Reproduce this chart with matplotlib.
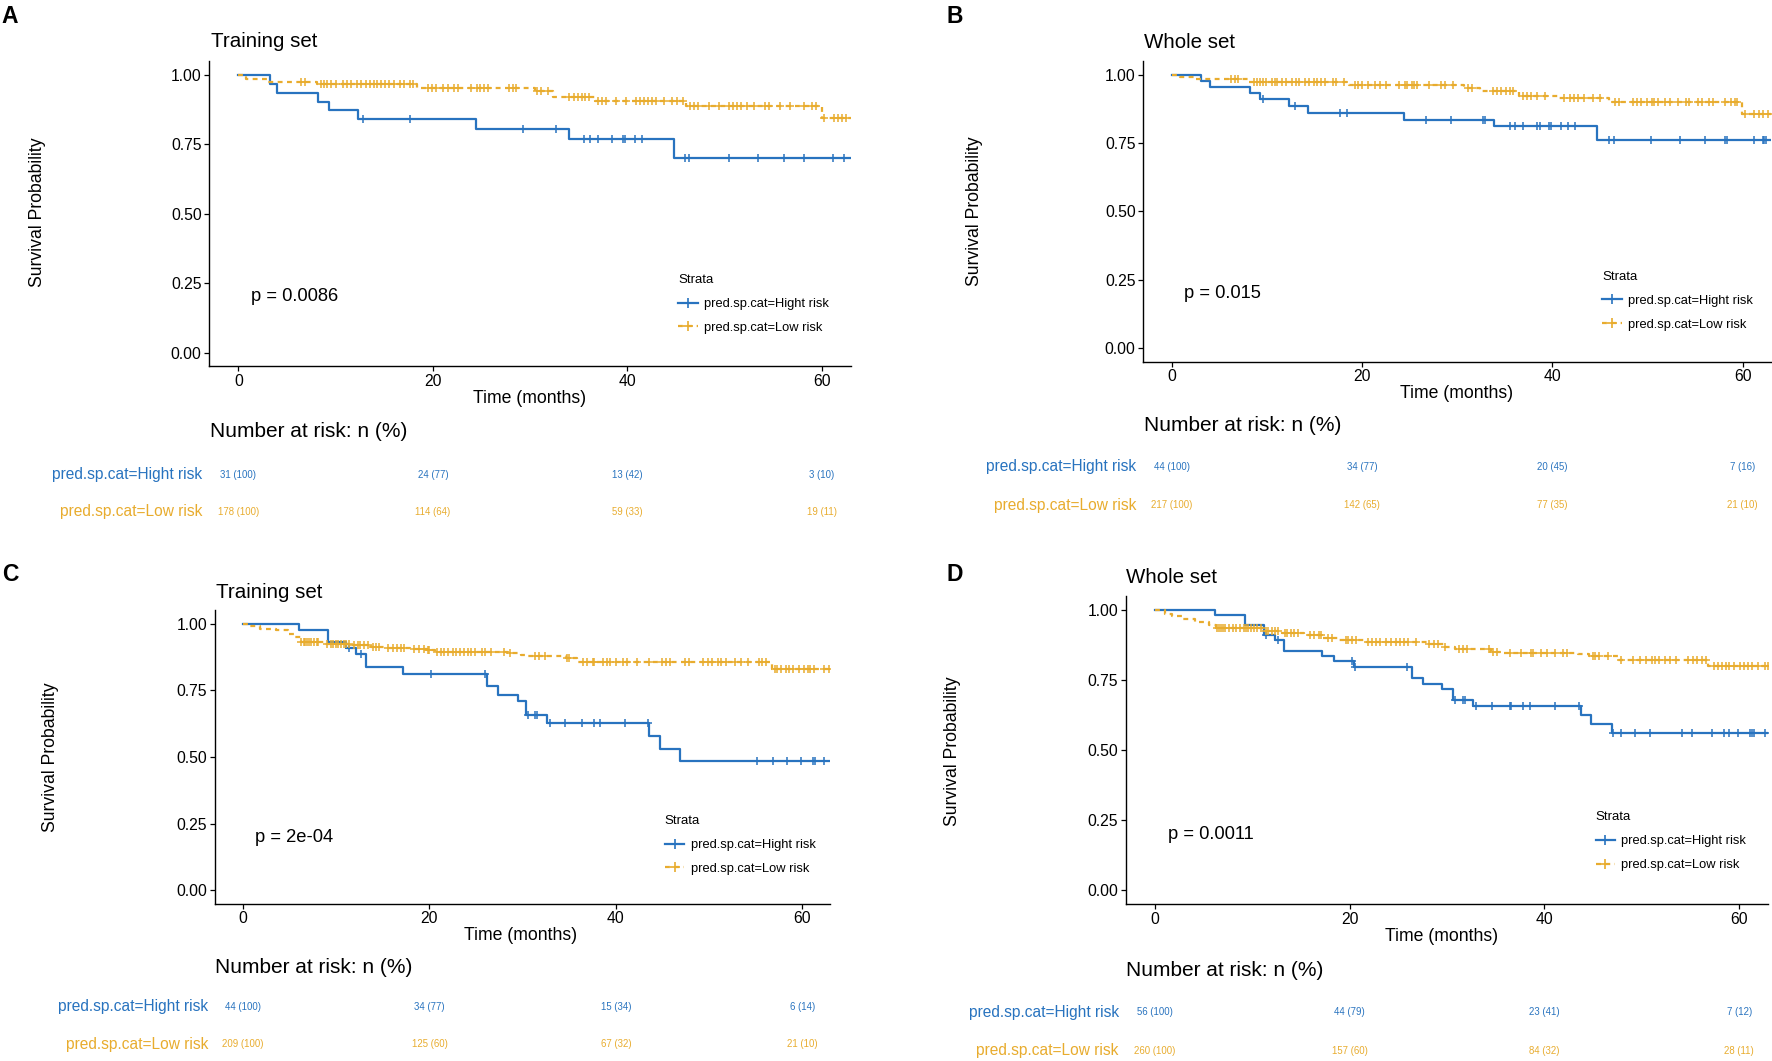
import matplotlib
matplotlib.use('Agg')
import matplotlib.pyplot as plt
from matplotlib.lines import Line2D
import numpy as np

plt.rcParams['font.family'] = ['Liberation Sans', 'DejaVu Sans']

BLUE = '#2873BF'
GOLD = '#E8AC2E'

# ---------------- data ----------------
RISK_TIMES = [0, 20, 40, 60]
STRATA = ['pred.sp.cat=Hight risk', 'pred.sp.cat=Low risk']

# Panel A - training set
A_hi_t = [3.2, 4.0, 8.2, 9.3, 12.3, 24.4, 34.0, 44.8]
A_hi_s = [0.967, 0.935, 0.903, 0.871, 0.839, 0.804, 0.769, 0.699]
A_hi_c = [12.8, 17.7, 29.3, 32.7, 35.6, 36.2, 37.0, 38.4, 39.6, 39.8, 40.8, 41.5,
          45.9, 46.4, 50.5, 53.5, 56.1, 58.2, 61.2, 62.3]
A_lo_t = [0.8, 3.0, 8.1, 18.4, 30.5, 32.4, 36.7, 46.1, 60.0]
A_lo_s = [0.983, 0.973, 0.967, 0.953, 0.940, 0.918, 0.905, 0.888, 0.845]
A_lo_c = [6.4, 6.8, 8.5, 8.8, 9.1, 9.5, 10.0, 10.8, 11.2, 11.6, 12.2, 12.6, 13.1, 13.5,
          13.9, 14.3, 14.7, 15.1, 15.5, 16.0, 16.6, 17.0, 17.6, 18.0, 19.5, 19.9, 20.3,
          21.0, 21.6, 22.2, 22.6, 23.9, 24.5, 24.9, 25.3, 25.7, 27.8, 28.2, 28.6, 30.7,
          31.1, 31.8, 34.0, 34.5, 34.9, 35.3, 35.7, 36.1, 37.0, 37.4, 37.8, 38.8, 39.9,
          40.9, 41.3, 41.7, 42.1, 42.6, 43.0, 43.8, 44.6, 45.1, 45.7, 46.5, 46.9, 47.3,
          48.4, 49.4, 50.5, 50.9, 51.3, 51.7, 52.3, 53.0, 54.2, 54.6, 55.7, 56.7, 58.2,
          59.0, 59.4, 60.2, 61.3, 61.7, 62.1, 62.5]
A_risk_hi = ['31 (100)', '24 (77)', '13 (42)', '3 (10)']
A_risk_lo = ['178 (100)', '114 (64)', '59 (33)', '19 (11)']

# Panel B - whole set
B_hi_t = [3.1, 4.0, 8.2, 9.3, 12.3, 14.3, 24.4, 33.9, 44.7]
B_hi_s = [0.977, 0.955, 0.932, 0.909, 0.886, 0.861, 0.835, 0.811, 0.759]
B_hi_c = [9.6, 12.9, 17.7, 18.4, 26.7, 29.3, 32.7, 32.9, 35.5, 36.1, 36.9, 38.4, 38.7,
          39.6, 39.9, 40.9, 41.6, 42.4, 45.9, 46.5, 50.4, 53.4, 56.0, 58.2, 58.4, 61.2,
          62.1, 62.3, 62.5]
B_lo_t = [0.8, 2.5, 8.0, 18.6, 30.7, 32.4, 36.5, 40.6, 46.0, 59.9]
B_lo_s = [0.991, 0.982, 0.973, 0.963, 0.951, 0.939, 0.921, 0.915, 0.899, 0.857]
B_lo_c = [6.2, 6.6, 7.0, 8.6, 8.9, 9.3, 9.6, 9.9, 10.5, 10.8, 11.1, 11.6, 12.0, 12.6,
          13.0, 13.4, 14.0, 14.4, 14.9, 15.3, 15.7, 16.1, 16.9, 17.2, 18.1, 19.2, 19.6,
          20.0, 20.6, 21.4, 21.9, 22.5, 23.9, 24.5, 24.7, 25.2, 25.4, 25.8, 27.0, 28.3,
          28.7, 29.5, 31.1, 31.6, 33.8, 34.2, 34.6, 35.1, 35.5, 35.9, 36.9, 37.3, 37.7,
          38.4, 39.2, 41.2, 41.9, 42.3, 42.7, 43.3, 44.3, 45.0, 46.6, 47.0, 48.5, 48.9,
          49.3, 49.9, 50.5, 50.7, 51.1, 51.8, 52.4, 53.2, 54.0, 54.4, 55.3, 55.7, 56.5,
          56.9, 58.1, 58.8, 59.2, 59.4, 60.2, 61.2, 61.7, 62.1, 62.7]
B_risk_hi = ['44 (100)', '34 (77)', '20 (45)', '7 (16)']
B_risk_lo = ['217 (100)', '142 (65)', '77 (35)', '21 (10)']

# Panel C - training set
C_hi_t = [6.0, 9.1, 11.1, 12.1, 13.2, 17.2, 26.2, 27.4, 29.5, 30.4, 32.6, 43.6, 44.7, 46.9]
C_hi_s = [0.977, 0.932, 0.909, 0.885, 0.838, 0.813, 0.765, 0.734, 0.709, 0.658, 0.628,
          0.579, 0.529, 0.484]
C_hi_c = [11.4, 12.7, 20.2, 26.0, 30.6, 31.3, 31.5, 32.9, 34.5, 36.4, 37.7, 38.3, 41.0,
          43.4, 55.1, 56.9, 58.3, 59.8, 61.1, 61.4, 62.3]
C_lo_t = [0.8, 1.8, 3.5, 4.8, 5.5, 6.2, 8.8, 11.8, 13.7, 15.4, 17.9, 19.7, 20.6, 28.4,
          29.8, 30.5, 34.6, 35.8, 56.7]
C_lo_s = [0.991, 0.981, 0.975, 0.963, 0.950, 0.931, 0.925, 0.919, 0.913, 0.909, 0.904,
          0.900, 0.894, 0.891, 0.884, 0.878, 0.872, 0.856, 0.831]
C_lo_c = [6.2, 6.5, 6.7, 6.9, 7.1, 7.3, 7.6, 7.9, 8.1, 9.0, 9.4, 9.7, 10.0, 10.2, 10.5,
          10.8, 11.1, 11.4, 11.9, 12.3, 12.6, 13.0, 13.4, 14.0, 14.3, 14.6, 15.6, 16.1,
          16.5, 16.9, 17.3, 18.3, 18.9, 19.4, 19.8, 20.0, 20.8, 21.2, 21.6, 22.0, 22.5,
          22.9, 23.3, 23.7, 24.1, 24.5, 24.9, 25.6, 26.0, 26.6, 28.0, 28.6, 31.3, 31.7,
          32.4, 34.8, 35.0, 36.5, 36.9, 37.5, 37.7, 38.6, 39.0, 39.4, 40.0, 40.8, 41.2,
          42.3, 43.5, 44.9, 45.4, 45.8, 47.4, 47.8, 49.3, 49.9, 50.3, 50.9, 51.3, 51.8,
          52.8, 53.4, 54.2, 55.3, 55.7, 56.1, 57.1, 57.3, 57.7, 58.2, 58.6, 59.0, 59.6,
          60.2, 60.6, 60.8, 61.3, 62.3, 62.9]
C_risk_hi = ['44 (100)', '34 (77)', '15 (34)', '6 (14)']
C_risk_lo = ['209 (100)', '125 (60)', '67 (32)', '21 (10)']

# Panel D - whole set
D_hi_t = [6.2, 9.2, 11.2, 12.3, 13.2, 17.2, 18.4, 20.4, 26.4, 27.5, 29.5, 30.6, 32.7,
          43.8, 44.8, 46.9]
D_hi_s = [0.982, 0.946, 0.911, 0.893, 0.854, 0.836, 0.818, 0.798, 0.758, 0.738, 0.717,
          0.679, 0.657, 0.625, 0.593, 0.563]
D_hi_c = [11.4, 12.6, 20.2, 20.5, 25.9, 30.8, 31.6, 31.8, 33.0, 34.6, 36.5, 36.6, 37.8,
          38.5, 41.1, 43.5, 47.0, 47.9, 49.3, 50.8, 54.1, 55.2, 57.2, 58.4, 59.0, 59.9,
          61.1, 61.3, 61.5, 62.6]
D_lo_t = [1.0, 1.7, 2.9, 4.1, 5.6, 6.3, 11.2, 13.0, 15.3, 17.3, 18.8, 21.5, 27.9, 29.7,
          30.8, 34.5, 35.5, 43.4, 44.6, 47.5, 56.8]
D_lo_s = [0.988, 0.979, 0.970, 0.958, 0.946, 0.935, 0.925, 0.918, 0.912, 0.902, 0.895,
          0.888, 0.879, 0.869, 0.861, 0.851, 0.848, 0.842, 0.836, 0.821, 0.800]
D_lo_c = [6.4, 6.6, 6.8, 7.0, 7.2, 7.6, 8.0, 8.3, 8.7, 9.1, 9.3, 9.6, 9.9, 10.2, 10.5,
          10.9, 11.4, 11.6, 12.0, 12.3, 12.6, 13.4, 13.6, 14.0, 14.3, 14.7, 15.9, 16.3,
          16.8, 17.1, 17.8, 18.2, 19.6, 19.8, 20.2, 20.6, 21.9, 22.3, 22.7, 23.1, 23.7,
          24.2, 24.8, 25.2, 25.6, 26.0, 26.8, 28.1, 28.7, 29.1, 29.8, 31.2, 31.6, 32.0,
          34.3, 34.7, 35.1, 36.5, 37.6, 38.6, 38.8, 39.6, 40.3, 41.1, 41.9, 42.3, 45.0,
          45.2, 45.6, 46.5, 47.9, 49.1, 49.8, 50.4, 51.0, 51.4, 51.8, 52.4, 52.9, 53.5,
          54.7, 55.3, 55.7, 56.2, 56.6, 57.4, 57.8, 58.2, 58.6, 59.0, 59.5, 60.1, 60.5,
          60.9, 61.3, 61.9, 62.6, 63.0]
D_risk_hi = ['56 (100)', '44 (79)', '23 (41)', '7 (12)']
D_risk_lo = ['260 (100)', '157 (60)', '84 (32)', '28 (11)']

FOLLOW_UP_END = 63.0

# ---------------- layout (measured in a 1568 x 939 copy of the reference) ----------------
W, H = 1568.0, 939.0

panels = [
    dict(letter='A', title='Training set', p='p = 0.0086',
         hi=(A_hi_t, A_hi_s, A_hi_c), lo=(A_lo_t, A_lo_s, A_lo_c), risk=(A_risk_hi, A_risk_lo),
         x0=211, x60=727, y1=66, y0=312, let=(9, 15), tit=(187, 37), ylab=(33, 188),
         xlab=(469, 353), head=(186, 382), rows=(420, 453)),
    dict(letter='B', title='Whole set', p='p = 0.015',
         hi=(B_hi_t, B_hi_s, B_hi_c), lo=(B_lo_t, B_lo_s, B_lo_c), risk=(B_risk_hi, B_risk_lo),
         x0=1037, x60=1542, y1=66, y0=308, let=(845, 15), tit=(1012, 38), ylab=(862, 187),
         xlab=(1289, 348), head=(1012, 377), rows=(413, 447)),
    dict(letter='C', title='Training set', p='p = 2e-04',
         hi=(C_hi_t, C_hi_s, C_hi_c), lo=(C_lo_t, C_lo_s, C_lo_c), risk=(C_risk_hi, C_risk_lo),
         x0=215, x60=710, y1=552, y0=788, let=(9, 508), tit=(191, 524), ylab=(45, 670),
         xlab=(461, 828), head=(190, 856), rows=(891, 924)),
    dict(letter='D', title='Whole set', p='p = 0.0011',
         hi=(D_hi_t, D_hi_s, D_hi_c), lo=(D_lo_t, D_lo_s, D_lo_c), risk=(D_risk_hi, D_risk_lo),
         x0=1022, x60=1539, y1=540, y0=788, let=(845, 508), tit=(996, 511), ylab=(843, 665),
         xlab=(1276, 829), head=(996, 859), rows=(896, 930)),
]

LW = 1.6
DASH = (0, (2.2, 2.0))


def fx(px):
    return px / W


def fy(py):
    return 1 - py / H


def draw_curve(ax, t, s, c, color, ls):
    tt = np.concatenate([[0.0], t, [FOLLOW_UP_END]])
    ss = np.concatenate([[1.0], s, [s[-1]]])
    ax.step(tt, ss, where='post', color=color, lw=LW, ls=ls)
    c = np.asarray(c)
    cs = ss[np.searchsorted(tt, c, side='right') - 1]
    ax.plot(c, cs, ls='none', marker='+', ms=6, mew=1.1, color=color)


fig = plt.figure(figsize=(17.72, 10.61), dpi=100)

for pn in panels:
    ppm = (pn['x60'] - pn['x0']) / 60.0
    ppu = pn['y0'] - pn['y1']
    left = pn['x0'] - 3 * ppm
    right = pn['x0'] + 63 * ppm
    top = pn['y1'] - 0.05 * ppu
    bottom = pn['y0'] + 0.05 * ppu
    ax = fig.add_axes([fx(left), fy(bottom), fx(right) - fx(left), fy(top) - fy(bottom)])

    draw_curve(ax, *pn['hi'], BLUE, '-')
    draw_curve(ax, *pn['lo'], GOLD, DASH)

    ax.set_xlim(-3, 63)
    ax.set_ylim(-0.05, 1.05)
    ax.set_xticks(RISK_TIMES)
    ax.set_yticks([0, 0.25, 0.5, 0.75, 1.0])
    ax.set_yticklabels(['0.00', '0.25', '0.50', '0.75', '1.00'])
    for side in ['top', 'right']:
        ax.spines[side].set_visible(False)
    for side in ['left', 'bottom']:
        ax.spines[side].set_linewidth(1.0)
    ax.tick_params(labelsize=11.3, length=3.5, width=0.9, pad=2, colors='black')

    ax.text(1.3, 0.2, pn['p'], fontsize=13.2, ha='left', va='center')

    handles = [Line2D([], [], color=BLUE, lw=LW, marker='+', ms=7, mew=1.2),
               Line2D([], [], color=GOLD, lw=LW, ls=DASH, marker='+', ms=7, mew=1.2)]
    ax.legend(handles, STRATA, title='Strata', loc='upper left',
              bbox_to_anchor=(0.731, 0.302), frameon=False, fontsize=9.3,
              title_fontsize=9.5, alignment='left', handlelength=1.5,
              handletextpad=0.5, labelspacing=0.92, borderpad=0, borderaxespad=0)

    fig.text(fx(pn['let'][0]), fy(pn['let'][1]), pn['letter'], fontsize=16.5,
             fontweight='bold', ha='center', va='center')
    fig.text(fx(pn['tit'][0]), fy(pn['tit'][1]), pn['title'], fontsize=14.8,
             ha='left', va='center')
    fig.text(fx(pn['ylab'][0]), fy(pn['ylab'][1]), 'Survival Probability', fontsize=12.7,
             rotation=90, ha='center', va='center')
    fig.text(fx(pn['xlab'][0]), fy(pn['xlab'][1]), 'Time (months)', fontsize=12.7,
             ha='center', va='center')
    fig.text(fx(pn['head'][0]), fy(pn['head'][1]), 'Number at risk: n (%)', fontsize=15,
             ha='left', va='center')

    # risk table shares the time axis of the curves
    r_hi, r_lo = pn['rows']
    axt = fig.add_axes([fx(left), fy(r_lo), fx(right) - fx(left), fy(r_hi) - fy(r_lo)])
    axt.set_xlim(-3, 63)
    axt.set_ylim(0, 1)
    axt.axis('off')
    for row_y, label, counts, color in [(1, STRATA[0], pn['risk'][0], BLUE),
                                        (0, STRATA[1], pn['risk'][1], GOLD)]:
        axt.annotate(label, xy=(0, row_y), xycoords=('axes fraction', 'data'),
                     xytext=(-5, 0), textcoords='offset points', ha='right', va='center',
                     fontsize=11.2, color=color, annotation_clip=False)
        for t, n in zip(RISK_TIMES, counts):
            axt.text(t, row_y, n, fontsize=6.9, color=color, ha='center', va='center')

fig.savefig('out.png', dpi=100)
